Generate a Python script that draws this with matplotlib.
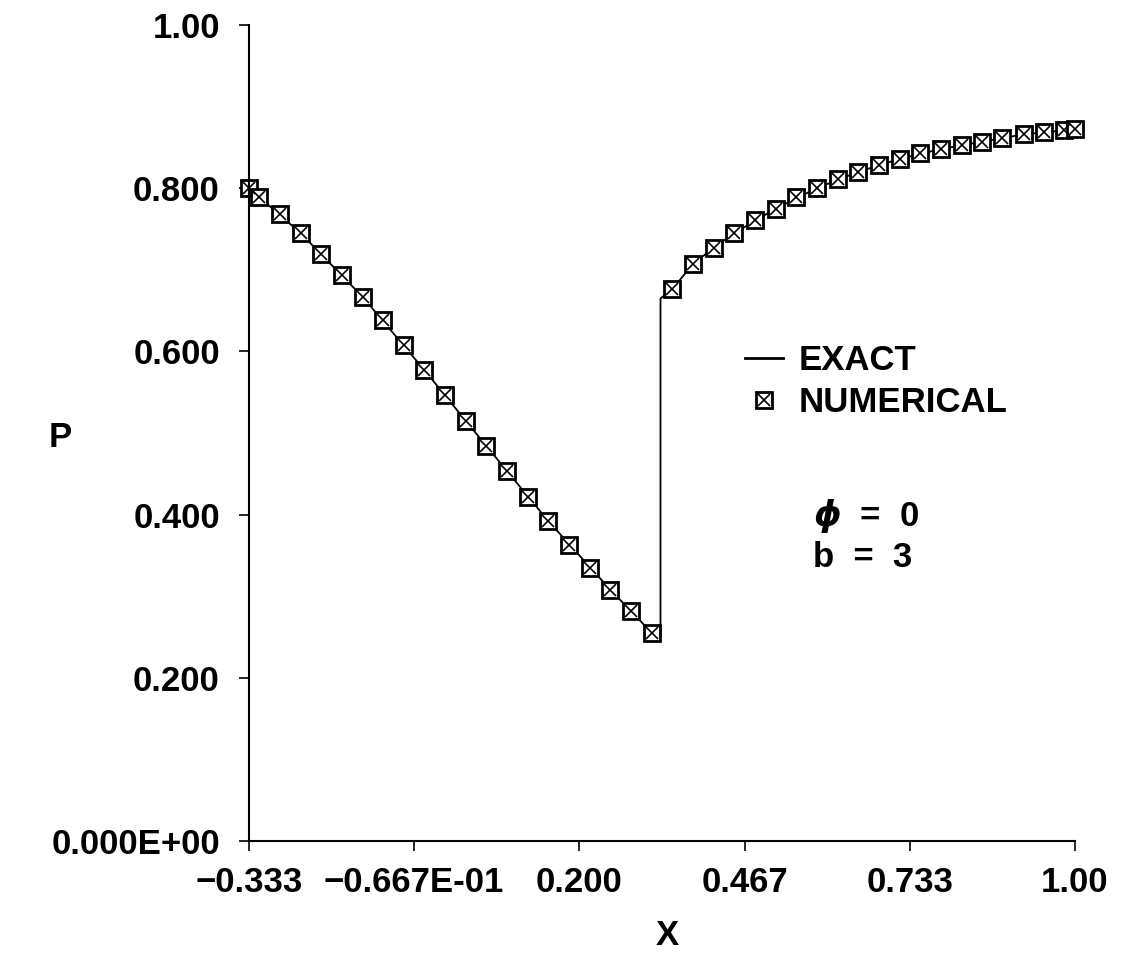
import matplotlib
matplotlib.use("Agg")
import matplotlib.pyplot as plt
from matplotlib.lines import Line2D
from matplotlib.legend_handler import HandlerTuple

plt.rcParams['font.family'] = ['Liberation Sans', 'DejaVu Sans']
plt.rcParams['font.weight'] = 'bold'
plt.rcParams['mathtext.fontset'] = 'dejavusans'

# numerical solution: boundary point, 40 cell centres, boundary point
num_x = [-0.333, -0.317, -0.283, -0.250, -0.217, -0.183, -0.150, -0.117, -0.083,
         -0.050, -0.017, 0.017, 0.050, 0.083, 0.117, 0.150, 0.183, 0.217, 0.250,
         0.283, 0.317,
         0.350, 0.383, 0.417, 0.450, 0.483, 0.517, 0.550, 0.583, 0.617, 0.650,
         0.683, 0.717, 0.750, 0.783, 0.817, 0.850, 0.883, 0.917, 0.950, 0.983, 1.000]
num_p = [0.800, 0.789, 0.768, 0.745, 0.720, 0.694, 0.667, 0.638, 0.608, 0.577,
         0.546, 0.515, 0.484, 0.453, 0.422, 0.392, 0.363, 0.335, 0.308, 0.282, 0.255,
         0.676, 0.707, 0.727, 0.745, 0.761, 0.775, 0.789, 0.800, 0.811, 0.820,
         0.829, 0.836, 0.843, 0.848, 0.853, 0.857, 0.862, 0.866, 0.869, 0.871, 0.873]

# exact solution with the jump near x = 1/3
exact_x = [-0.333, -0.250, -0.150, -0.050, 0.050, 0.150, 0.250, 0.317, 0.331,
           0.331, 0.350, 0.383, 0.417, 0.450, 0.517, 0.583, 0.650, 0.717, 0.783,
           0.850, 0.917, 0.983, 1.000]
exact_p = [0.800, 0.745, 0.667, 0.577, 0.484, 0.392, 0.308, 0.255, 0.248,
           0.665, 0.676, 0.707, 0.727, 0.745, 0.775, 0.800, 0.820, 0.836, 0.848,
           0.857, 0.866, 0.871, 0.873]

xticks = [-0.3333, -0.0667, 0.2, 0.4667, 0.7333, 1.0]
xlabels = ["\u22120.333", "\u22120.667E-01", "0.200", "0.467", "0.733", "1.00"]
yticks = [0.0, 0.2, 0.4, 0.6, 0.8, 1.0]
ylabels = ["0.000E+00", "0.200", "0.400", "0.600", "0.800", "1.00"]

fs = 25

fig = plt.figure(figsize=(11.23, 9.56), dpi=100)
ax = fig.add_axes([0.2217, 0.1203, 0.7355, 0.8535])

ax.plot(exact_x, exact_p, color='black', lw=1.3, clip_on=False)
ax.plot(num_x, num_p, ls='none', marker='s', ms=11.5, mfc='white', mec='black',
        mew=2.0, clip_on=False)
ax.plot(num_x, num_p, ls='none', marker='x', ms=8, mec='black', mew=1.2,
        clip_on=False)

ax.set_xlim(-0.3333, 1.0)
ax.set_ylim(0.0, 1.0)
ax.set_xticks(xticks)
ax.set_xticklabels(xlabels, fontsize=fs, fontweight='bold')
ax.set_yticks(yticks)
ax.set_yticklabels(ylabels, fontsize=fs, fontweight='bold')
ax.tick_params(axis='x', direction='out', length=7, width=1.2, pad=11)
ax.tick_params(axis='y', direction='out', length=7, width=1.2, pad=14)

for side in ['top', 'right']:
    ax.spines[side].set_visible(False)
for side in ['left', 'bottom']:
    ax.spines[side].set_linewidth(1.5)

ax.set_xlabel("X", fontsize=fs, fontweight='bold', va='center')
ax.xaxis.set_label_coords(0.507, -0.116)
ax.set_ylabel("P", fontsize=fs, fontweight='bold', rotation=0, va='center', ha='center')
ax.yaxis.set_label_coords(-0.229, 0.494)

h_exact = Line2D([], [], color='black', lw=2)
h_sq = Line2D([], [], ls='none', marker='s', ms=11.5, mfc='white', mec='black', mew=2.0)
h_x = Line2D([], [], ls='none', marker='x', ms=8, mec='black', mew=1.2)
ax.legend([h_exact, (h_sq, h_x)], ["EXACT", "NUMERICAL"],
          handler_map={tuple: HandlerTuple(ndivide=1, pad=0)},
          loc='center left', bbox_to_anchor=(0.600, 0.563), frameon=False,
          prop={'size': fs, 'weight': 'bold'}, handlelength=1.1,
          handletextpad=0.45, labelspacing=0.25, borderpad=0, borderaxespad=0)

ax.text(0.683, 0.399, r"$\phi$  =  0", transform=ax.transAxes, fontsize=fs,
        fontweight='bold', va='center', ha='left')
ax.text(0.683, 0.347, "b  =  3", transform=ax.transAxes, fontsize=fs,
        fontweight='bold', va='center', ha='left')

fig.savefig("out.png", dpi=100)
